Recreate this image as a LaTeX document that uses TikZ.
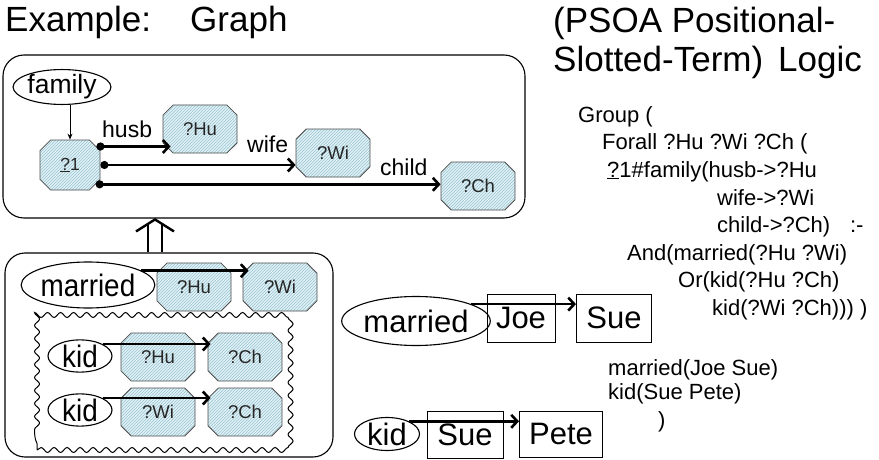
\documentclass[tikz,border=0pt]{standalone}
\usepackage{fontspec}
\setmainfont{Liberation Sans}
\newfontfamily\tallsans[FakeStretch=0.9]{Liberation Sans}
\usetikzlibrary{shapes.geometric,shapes.misc,arrows.meta,decorations.pathmorphing,patterns,calc}

\newcommand\pxfont[1]{\fontsize{#1}{#1}\selectfont}

\definecolor{octfill}{RGB}{224,241,246}
\definecolor{hatch}{RGB}{155,195,208}

\tikzset{
  x=1pt, y={(0pt,-1pt)},
  octnode/.style={chamfered rectangle, chamfered rectangle xsep=13pt,
    draw=black!70, line width=0.8pt, preaction={fill=octfill},
    pattern=north east lines, pattern color=hatch,
    minimum width=74pt, minimum height=48pt, inner sep=0pt,
    font=\pxfont{18.5}, text=black!85},
  pred/.style={ellipse, draw, line width=1.1pt, inner sep=0pt},
  const/.style={rectangle, draw, line width=1pt, inner sep=0pt, font=\pxfont{31}},
  frame/.style={draw, line width=1.1pt, rounded corners=21pt},
  rel/.style={line width=2.6pt, -{Straight Barb[length=6pt,width=13pt]}},
  slotrel/.style={line width=2.6pt, {Circle[length=8pt]}-{Straight Barb[length=6pt,width=13pt]}},
  slot/.style={anchor=base west, inner sep=0pt, font=\pxfont{23}},
  title/.style={anchor=base west, inner sep=0pt, font=\pxfont{35}},
  code/.style={anchor=base west, inner sep=0pt, font=\pxfont{22}},
}

\begin{document}
\begin{tikzpicture}
\useasboundingbox (0,0) rectangle (879,460);

% headings
\node[title] (h1) at (5,32) {Example:};
\node[title] (h2) at (190,32) {Graph};
\node[title] (h3) at (553,33) {(PSOA Positional-};
\node[title] (h4) at (553,72) {Slotted-Term)\hspace{0.15em} Logic};

% slotted term as a graph
\node[frame, minimum width=522pt, minimum height=163pt] (top) at (264,136.5) {};
\node[pred, minimum width=95pt, minimum height=33pt, font=\pxfont{26.5}] (fam) at (62,87) {family};
\node[octnode, minimum width=60pt, minimum height=50pt, font=\pxfont{17.5}] (one) at (70,165) {\underline{?}1};
\node[octnode] (hu1) at (200,129) {?Hu};
\node[octnode] (wi1) at (333,153) {?Wi};
\node[octnode] (ch1) at (478,186) {?Ch};

\draw[line width=0.8pt, -{Stealth[length=6pt,width=5pt]}] (one.north |- fam.south) -- (one.north);
\draw[slotrel] (one.35) -- ($(one.35 -| hu1.west)+(8,0)$);
\draw[slotrel] (one.east) -- (one.east -| wi1.west);
\draw[slotrel] (one.-37) -- (one.-37 -| ch1.west);
\node[slot] (l1) at (102,138) {husb};
\node[slot] (l2) at (247,152) {wife};
\node[slot] (l3) at (380,175) {child};

% rule body
\node[frame, rounded corners=20pt, minimum width=328pt, minimum height=204pt] (bot) at (169,355) {};
\path (bot.north) ++(-14,0) coordinate (impl);
\draw[line width=2.4pt] (impl) ++(-7,0) -- ++(0,-27) (impl) ++(7,0) -- ++(0,-27);
\draw[line width=2.4pt, line join=miter] (impl) ++(-19,-21) -- ++(19,-12) -- ++(19,12);

\node[pred, minimum width=119pt, minimum height=46pt, font=\tallsans\pxfont{31}] (m2) at (88,285) {married};
\node[octnode] (hu2) at (194,287) {?Hu};
\node[octnode] (wi2) at (280,287) {?Wi};
\draw[rel] (m2.15) -- ($(m2.15 -| wi2.west)+(6,0)$);

\node[draw, line width=1pt, decorate, decoration={snake, segment length=13pt, amplitude=2.5pt},
      minimum width=251pt, minimum height=130pt] (alt) at (162.5,385) {};
\node[pred, minimum width=64pt, minimum height=28pt, font=\tallsans\pxfont{31}] (k1) at (80,356) {kid};
\node[octnode] (hu3) at (158,357) {?Hu};
\node[octnode] (ch3) at (245,357) {?Ch};
\draw[rel] (k1.28) -- ($(k1.28 -| ch3.west)+(3,0)$);
\node[pred, minimum width=64pt, minimum height=28pt, font=\tallsans\pxfont{31}] (k2) at (80,410) {kid};
\node[octnode] (wi3) at (158,412) {?Wi};
\node[octnode] (ch4) at (245,412) {?Ch};
\draw[rel] (k2.28) -- ($(k2.28 -| ch4.west)+(3,0)$);

% facts
\node[pred, minimum width=123pt, minimum height=49pt, font=\pxfont{31}] (m3) at (416,321) {married};
\node[const, minimum width=68pt, minimum height=48pt] (joe) at (521,318) {Joe};
\node[const, minimum width=75pt, minimum height=48pt] (sue1) at (614,318) {Sue};
\draw[rel] (m3.17) -- (m3.17 -| sue1.west);
\node[pred, minimum width=65pt, minimum height=33pt, font=\pxfont{31}] (k4) at (387,434) {kid};
\node[const, minimum width=76pt, minimum height=47pt] (sue2) at (465,435) {Sue};
\node[const, minimum width=83pt, minimum height=46pt] (pete) at (561,434) {Pete};
\draw[rel] (k4.30) -- (k4.30 -| pete.west);

% presentation syntax
\node[code] (c1) at (578,122) {Group (};
\node[code] (c2) at (602,149.5) {Forall ?Hu ?Wi ?Ch (};
\node[code] (c3) at (607,177) {\underline{?}1\#family(husb->?Hu};
\node[code] (c4) at (717,205) {wife->?Wi};
\node[code] (c5) at (717,232) {child->?Ch)\hspace{0.9em}:-};
\node[code] (c6) at (627,260) {And(married(?Hu ?Wi)};
\node[code] (c7) at (678,287) {Or(kid(?Hu ?Ch)};
\node[code] (c8) at (712,315) {kid(?Wi ?Ch))) )};
\node[code] (f1) at (608,375) {married(Joe Sue)};
\node[code] (f2) at (608,399) {kid(Sue Pete)};
\node[code] (f3) at (658,427) {)};
\end{tikzpicture}
\end{document}
